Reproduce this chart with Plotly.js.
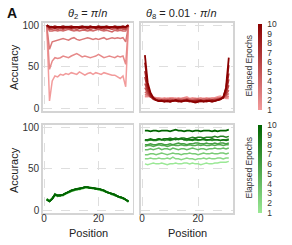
<!DOCTYPE html>
<html><head><meta charset="utf-8">
<script src="https://cdn.plot.ly/plotly-3.0.1.min.js"></script>
<style>html,body{margin:0;padding:0;background:#fff}#chart{width:292px;height:245px}</style>
</head><body><div id="chart"></div>
<script>
// Positions along the sequence
const positions = [1,2,3,4,5,6,7,8,9,10,11,12,13,14,15,16,17,18,19,20,21,22,23,24,25,26,27,28,29,30,31];
const epochs = [1,2,3,4,5,6,7,8,9,10];
const yTicks = [0,50,100];
const xTicks = [0,20];

// Top-left: theta_2 = pi/n (red), epochs 1..10
const redTheta2_e1  = [99, 9, 33, 39, 38, 41, 40, 42, 41, 43, 42, 41, 44, 42, 40, 42, 43, 41, 43, 42, 41, 43, 42, 41, 40, 40, 38, 36, 39, 26, 99];
const redTheta2_e2  = [99, 47, 57, 61, 60, 61, 63, 62, 61, 63, 65, 66, 64, 62, 63, 62, 61, 62, 63, 65, 63, 61, 62, 63, 62, 61, 63, 62, 63, 53, 99];
const redTheta2_e3  = [99, 71, 80, 81, 82, 83, 84, 83, 82, 84, 85, 83, 82, 83, 84, 85, 84, 83, 84, 83, 84, 85, 83, 84, 85, 84, 85, 84, 85, 80, 99];
const redTheta2_e4  = [99, 93, 93, 94, 93, 94, 93, 94, 95, 94, 93, 94, 93, 94, 94, 93, 94, 93, 94, 95, 94, 93, 94, 93, 92, 94, 93, 94, 93, 93, 99];
const redTheta2_e5  = [99, 95, 95, 96, 95, 96, 95, 96, 96, 95, 96, 95, 96, 96, 95, 96, 95, 96, 96, 95, 96, 95, 96, 96, 95, 96, 95, 96, 95, 95, 99];
const redTheta2_e6  = [99, 96, 97, 96, 97, 96, 97, 97, 96, 97, 96, 97, 97, 96, 97, 96, 97, 97, 96, 97, 96, 97, 96, 97, 97, 96, 97, 96, 97, 96, 99];
const redTheta2_e7  = [100, 97, 97, 98, 97, 97, 98, 97, 97, 98, 97, 97, 98, 97, 98, 97, 97, 98, 97, 97, 98, 97, 97, 98, 97, 98, 97, 97, 98, 97, 100];
const redTheta2_e8  = [100, 97, 98, 97, 98, 98, 97, 98, 98, 97, 98, 98, 97, 98, 98, 97, 98, 98, 97, 98, 98, 97, 98, 97, 98, 98, 97, 98, 97, 98, 100];
const redTheta2_e9  = [100, 98, 98, 99, 98, 98, 99, 98, 98, 99, 98, 98, 98, 99, 98, 98, 99, 98, 98, 99, 98, 98, 99, 98, 98, 99, 98, 98, 99, 98, 100];
const redTheta2_e10 = [100, 98, 98, 97, 98, 98, 97, 98, 98, 97, 98, 98, 97, 98, 98, 97, 98, 98, 97, 98, 97, 98, 98, 97, 98, 98, 97, 98, 98, 98, 100];

// Top-right: theta_8 = 0.01*pi/n (red)
const redTheta8_e1  = [14, 14, 15, 14, 13, 13, 12, 13, 12, 13, 13, 12, 13, 12, 13, 14, 12, 13, 12, 12, 13, 12, 13, 12, 13, 13, 14, 15, 13, 12, 12];
const redTheta8_e2  = [15, 15, 14, 13, 12, 12, 12, 11, 12, 12, 12, 12, 11, 12, 13, 12, 11, 12, 12, 12, 12, 11, 12, 12, 12, 12, 13, 13, 14, 13, 14];
const redTheta8_e3  = [17, 16, 14, 13, 12, 11, 11, 11, 12, 11, 11, 12, 11, 11, 12, 12, 11, 11, 12, 11, 11, 12, 11, 12, 11, 12, 12, 13, 13, 14, 15];
const redTheta8_e4  = [20, 17, 14, 12, 11, 11, 10, 11, 10, 11, 11, 10, 11, 11, 10, 12, 11, 10, 11, 11, 10, 11, 11, 11, 10, 11, 12, 12, 13, 15, 18];
const redTheta8_e5  = [25, 18, 14, 12, 11, 10, 10, 10, 10, 11, 10, 10, 11, 10, 10, 11, 10, 10, 10, 11, 10, 10, 10, 11, 10, 11, 11, 12, 13, 16, 22];
const redTheta8_e6  = [30, 20, 14, 12, 10, 10, 10, 9, 10, 10, 9, 10, 10, 10, 9, 11, 10, 9, 10, 10, 10, 9, 10, 10, 10, 10, 11, 12, 13, 17, 28];
const redTheta8_e7  = [38, 22, 15, 11, 10, 10, 9, 9, 10, 9, 9, 10, 10, 9, 9, 10, 9, 9, 9, 10, 9, 9, 10, 9, 10, 9, 11, 12, 13, 18, 35];
const redTheta8_e8  = [45, 24, 15, 12, 10, 9, 9, 10, 9, 8, 9, 10, 9, 9, 10, 9, 9, 8, 9, 9, 8, 9, 9, 10, 9, 10, 10, 12, 13, 20, 42];
const redTheta8_e9  = [55, 28, 17, 12, 10, 9, 10, 9, 8, 9, 10, 9, 8, 9, 10, 9, 8, 9, 8, 9, 10, 9, 8, 9, 10, 9, 10, 11, 14, 24, 52];
const redTheta8_e10 = [64, 31, 19, 13, 10, 9, 9, 8, 9, 8, 9, 10, 9, 8, 9, 10, 9, 8, 7, 8, 9, 8, 9, 9, 8, 9, 10, 11, 13, 25, 61];

// Bottom-left: theta_2 (green)
const greenTheta2_e1  = [14, 12, 15, 18, 17, 18, 18, 20, 21, 23, 24, 25, 25, 26, 27, 27, 27, 26, 26, 25, 24, 23, 22, 21, 19, 18, 17, 16, 14, 13, 11];
const greenTheta2_e2  = [14, 12, 14, 19, 17, 18, 19, 20, 22, 23, 24, 25, 26, 26, 27, 28, 27, 27, 26, 25, 25, 23, 22, 21, 20, 18, 17, 16, 15, 13, 11];
const greenTheta2_e3  = [13, 11, 14, 19, 18, 18, 19, 21, 21, 24, 25, 25, 26, 27, 27, 28, 27, 26, 26, 26, 24, 24, 22, 21, 20, 19, 17, 16, 15, 13, 11];
const greenTheta2_e4  = [14, 11, 14, 18, 18, 18, 19, 20, 22, 23, 25, 26, 26, 27, 28, 27, 27, 27, 26, 25, 25, 24, 22, 21, 19, 19, 17, 16, 14, 13, 11];
const greenTheta2_e5  = [13, 12, 14, 19, 17, 18, 19, 21, 22, 24, 24, 26, 26, 27, 28, 28, 27, 27, 26, 26, 25, 23, 22, 21, 20, 19, 17, 15, 15, 13, 11];
const greenTheta2_e6  = [13, 11, 15, 19, 18, 18, 19, 21, 22, 24, 25, 26, 26, 27, 28, 28, 28, 27, 26, 26, 25, 24, 22, 21, 20, 18, 17, 16, 15, 13, 11];
const greenTheta2_e7  = [14, 11, 14, 19, 18, 18, 18, 21, 22, 24, 25, 25, 26, 27, 28, 28, 27, 27, 27, 26, 25, 24, 23, 21, 20, 19, 17, 16, 15, 13, 10];
const greenTheta2_e8  = [13, 11, 14, 20, 18, 18, 19, 21, 22, 23, 25, 26, 26, 27, 28, 28, 27, 27, 26, 26, 25, 24, 22, 21, 20, 19, 17, 16, 15, 13, 11];
const greenTheta2_e9  = [13, 11, 14, 19, 18, 19, 19, 21, 22, 24, 25, 26, 27, 27, 28, 28, 27, 27, 26, 26, 25, 24, 22, 21, 20, 19, 17, 16, 15, 13, 11];
const greenTheta2_e10 = [13, 11, 14, 19, 18, 18, 19, 21, 22, 24, 25, 26, 26, 27, 28, 28, 27, 27, 26, 26, 25, 24, 22, 21, 20, 19, 17, 16, 15, 13, 11];

// Bottom-right: theta_8 (green)
const greenTheta8_e1  = [56, 55, 56, 57, 56, 56, 57, 56, 55, 56, 56, 57, 56, 56, 57, 57, 56, 57, 56, 56, 55, 56, 57, 56, 56, 57, 57, 58, 58, 58, 59];
const greenTheta8_e2  = [62, 62, 63, 62, 62, 63, 62, 62, 63, 62, 64, 62, 62, 61, 62, 63, 62, 62, 61, 62, 62, 63, 62, 63, 62, 62, 63, 63, 62, 63, 63];
const greenTheta8_e3  = [67, 67, 68, 68, 67, 68, 69, 68, 67, 68, 69, 68, 68, 67, 68, 68, 69, 68, 68, 67, 68, 69, 68, 68, 69, 68, 68, 69, 69, 68, 69];
const greenTheta8_e4  = [73, 73, 74, 73, 74, 75, 73, 74, 74, 73, 75, 74, 73, 74, 74, 73, 74, 75, 74, 73, 74, 74, 73, 74, 74, 75, 74, 74, 75, 74, 75];
const greenTheta8_e5  = [77, 78, 78, 77, 78, 79, 78, 78, 77, 78, 79, 78, 78, 79, 78, 78, 79, 78, 78, 79, 78, 79, 78, 78, 79, 78, 79, 79, 78, 79, 79];
const greenTheta8_e6  = [79, 79, 80, 79, 79, 80, 80, 79, 79, 80, 79, 80, 81, 80, 80, 79, 80, 80, 81, 81, 80, 80, 81, 80, 80, 81, 80, 81, 81, 80, 81];
const greenTheta8_e7  = [84, 84, 85, 84, 84, 85, 85, 84, 85, 84, 85, 86, 85, 86, 85, 84, 85, 84, 85, 84, 85, 85, 84, 85, 84, 85, 85, 84, 85, 85, 86];
const greenTheta8_e8  = [85, 84, 85, 85, 85, 86, 85, 86, 86, 87, 86, 87, 86, 87, 87, 86, 87, 88, 87, 88, 88, 87, 88, 88, 88, 89, 88, 89, 89, 88, 89];
const greenTheta8_e9  = [85, 85, 86, 85, 85, 86, 85, 86, 86, 85, 86, 85, 86, 86, 85, 86, 85, 85, 86, 85, 85, 86, 85, 85, 86, 85, 85, 84, 85, 84, 85];
const greenTheta8_e10 = [96, 96, 95, 96, 96, 95, 96, 96, 96, 95, 96, 97, 96, 96, 95, 96, 96, 95, 96, 96, 95, 96, 96, 96, 95, 96, 95, 96, 96, 96, 97];

const redTheta2 = [redTheta2_e1,redTheta2_e2,redTheta2_e3,redTheta2_e4,redTheta2_e5,redTheta2_e6,redTheta2_e7,redTheta2_e8,redTheta2_e9,redTheta2_e10];
const redTheta8 = [redTheta8_e1,redTheta8_e2,redTheta8_e3,redTheta8_e4,redTheta8_e5,redTheta8_e6,redTheta8_e7,redTheta8_e8,redTheta8_e9,redTheta8_e10];
const greenTheta2 = [greenTheta2_e1,greenTheta2_e2,greenTheta2_e3,greenTheta2_e4,greenTheta2_e5,greenTheta2_e6,greenTheta2_e7,greenTheta2_e8,greenTheta2_e9,greenTheta2_e10];
const greenTheta8 = [greenTheta8_e1,greenTheta8_e2,greenTheta8_e3,greenTheta8_e4,greenTheta8_e5,greenTheta8_e6,greenTheta8_e7,greenTheta8_e8,greenTheta8_e9,greenTheta8_e10];

// styling
const redLo = [242,155,155], redHi = [139,0,0];
const grnLo = [155,232,150], grnHi = [0,100,0];
function mix(lo, hi, t){ return 'rgb(' + lo.map((v,i)=>Math.round(v+(hi[i]-v)*t)).join(',') + ')'; }
function col(lo, hi, e){ return mix(lo, hi, (e-1)/9); }
const redScale = [[0, mix(redLo,redHi,0)],[0.5, mix(redLo,redHi,0.5)],[1, mix(redLo,redHi,1)]];
const grnScale = [[0, mix(grnLo,grnHi,0)],[0.5, mix(grnLo,grnHi,0.5)],[1, mix(grnLo,grnHi,1)]];

const traces = [];
function addPanel(series, lo, hi, xa, ya){
  series.forEach((ys, i) => {
    traces.push({x: positions, y: ys, xaxis: xa, yaxis: ya, type: 'scatter', mode: 'lines',
      line: {color: col(lo, hi, epochs[i]), width: i === 9 ? 1.8 : 1.5},
      showlegend: false, hoverinfo: 'skip'});
  });
}
addPanel(redTheta2, redLo, redHi, 'x', 'y');
addPanel(redTheta8, redLo, redHi, 'x2', 'y2');
addPanel(greenTheta2, grnLo, grnHi, 'x3', 'y3');
addPanel(greenTheta8, grnLo, grnHi, 'x4', 'y4');

function cbTrace(scale, xa, ya, yc, len){
  return {x: [-100], y: [-100], xaxis: xa, yaxis: ya, type: 'scatter', mode: 'markers', showlegend: false, hoverinfo: 'skip',
    marker: {color: [1], cmin: 1, cmax: 10, colorscale: scale, showscale: true, size: 1,
      colorbar: {x: 257.7/292, xanchor: 'left', y: yc, yanchor: 'middle', len: len, lenmode: 'fraction',
        thickness: 3.5, thicknessmode: 'pixels', outlinewidth: 0, xpad: 0, ypad: 0,
        tickvals: epochs, ticktext: epochs.map(String), ticks: 'outside', ticklen: 4, tickcolor: 'rgba(0,0,0,0)',
        tickfont: {family: 'Liberation Sans, Arial, sans-serif', size: 8.5, color: '#333'}}}};
}
traces.push(cbTrace(redScale, 'x2', 'y2', 1-67/245, 86/245));
traces.push(cbTrace(grnScale, 'x4', 'y4', 1-169/245, 88/245));

const font = {family: 'Liberation Sans, Arial, sans-serif', size: 10, color: '#333'};
function xax(dom, labels, anchor){
  return {domain: dom, anchor: anchor, range: [-0.5, 32.5], tickvals: xTicks, showticklabels: labels, ticks: '',
    ticklabelstandoff: -5,
    showgrid: true, gridcolor: '#dedede', griddash: 'dash', gridwidth: 1, zeroline: false,
    showline: true, mirror: true, linecolor: '#d4d4d4', linewidth: 1.5, tickfont: font, fixedrange: true};
}
function yax(dom, labels, anchor){
  return {domain: dom, anchor: anchor, range: [-3, 103], tickvals: yTicks, showticklabels: labels, ticks: '',
    showgrid: true, gridcolor: '#dedede', griddash: 'dash', gridwidth: 1, zeroline: false,
    showline: true, mirror: true, linecolor: '#d4d4d4', linewidth: 1.5, tickfont: font, fixedrange: true};
}
const xL = [42.7/292, 132.5/292], xR = [140.7/292, 233/292];
const yT = [1-111/245, 1-22.7/245], yB = [1-213/245, 1-124.7/245];

const af = {family: 'Liberation Sans, Arial, sans-serif', size: 11, color: '#222'};
const annotations = [
  {text: '<b>A</b>', x: 12/292, y: 1-13.5/245, font: {family: 'Liberation Sans, Arial, sans-serif', size: 14, color: '#111'}},
  {text: '<i>θ</i><sub>2</sub> = <i>π</i>/<i>n</i>', x: 87.5/292, y: 1-14/245, font: af},
  {text: '<i>θ</i><sub>8</sub> = 0.01 · <i>π</i>/<i>n</i>', x: 181.5/292, y: 1-14/245, font: af},
  {text: 'Accuracy', x: 14/292, y: 1-67/245, textangle: -90, font: af},
  {text: 'Accuracy', x: 14/292, y: 1-170/245, textangle: -90, font: af},
  {text: 'Position', x: 88/292, y: 1-232.5/245, font: af},
  {text: 'Position', x: 187/292, y: 1-232.5/245, font: af},
  {text: 'Elapsed Epochs', x: 248.5/292, y: 1-66/245, textangle: -90, font: {family: 'Liberation Sans, Arial, sans-serif', size: 8.5, color: '#333'}},
  {text: 'Elapsed Epochs', x: 248.5/292, y: 1-168/245, textangle: -90, font: {family: 'Liberation Sans, Arial, sans-serif', size: 8.5, color: '#333'}}
].map(a => Object.assign({xref: 'paper', yref: 'paper', xanchor: 'center', yanchor: 'middle', showarrow: false}, a));

const layout = {
  width: 292, height: 245, margin: {l: 0, r: 0, t: 0, b: 0},
  paper_bgcolor: '#fff', plot_bgcolor: '#fff', showlegend: false, font: font,
  xaxis: xax(xL, false, 'y'), yaxis: yax(yT, true, 'x'),
  xaxis2: xax(xR, false, 'y2'), yaxis2: yax(yT, false, 'x2'),
  xaxis3: xax(xL, true, 'y3'), yaxis3: yax(yB, true, 'x3'),
  xaxis4: xax(xR, true, 'y4'), yaxis4: yax(yB, false, 'x4'),
  annotations: annotations
};
Plotly.newPlot('chart', traces, layout, {staticPlot: true, displayModeBar: false});
</script></body></html>
